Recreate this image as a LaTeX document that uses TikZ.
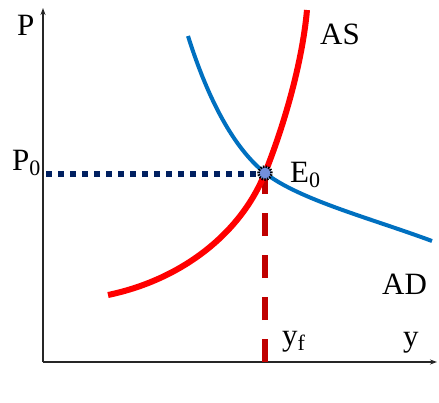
\documentclass[tikz,border=0pt]{standalone}
\usepackage{fontspec}
\setmainfont{Liberation Serif}
\usetikzlibrary{arrows.meta}
\definecolor{adblue}{HTML}{0070C0}
\definecolor{asred}{HTML}{FF0000}
\definecolor{darkred}{HTML}{C00000}
\definecolor{navy}{HTML}{002060}
\definecolor{ptfill}{HTML}{7390DC}
\newcommand{\sbs}[1]{\raisebox{-5pt}{\fontsize{22}{22}\selectfont #1}}
\begin{document}
\begin{tikzpicture}[x=1pt,y=-1pt,
  lbl/.style={anchor=base west,inner sep=0pt,font=\fontsize{31}{31}\selectfont},
  axis/.style={line width=1.3pt,draw=black!85,-{Stealth[length=7pt,width=5pt]}},
  adcurve/.style={draw=adblue,line width=4pt},
  ascurve/.style={draw=asred,line width=6pt},
  guideh/.style={draw=navy,line width=6pt,dash pattern=on 6pt off 6pt},
  guidev/.style={draw=darkred,line width=6pt,dash pattern=on 23pt off 19pt},
  eqpt/.style={circle,minimum size=13pt,inner sep=0pt,fill=ptfill,draw=black,line width=2.5pt,dash pattern=on 1.5pt off 1.2pt}]
\useasboundingbox (0,0) rectangle (439,402);
% axes
\coordinate (O) at (43,362);
\coordinate (ytop) at (43,8);
\coordinate (xend) at (437,362);
\draw[axis] (O) -- (ytop);
\draw[axis] (O) -- (xend);
% guides
\coordinate (e) at (265,173);
\coordinate (pstart) at (46,174);
\coordinate (yfbot) at (265,362);
\draw[guideh] (pstart) -- (e |- pstart);
\draw[guidev] (yfbot) -- (e);
% AS curve
\coordinate (as1) at (108,295);
\coordinate (as2) at (307,10);
\draw[ascurve] (as1) .. controls (180,280) and (240,235) .. (e)
               .. controls (283,128) and (302,65) .. (as2);
% AD curve
\coordinate (ad1) at (188,36);
\coordinate (ad2) at (432,241);
\draw[adcurve] (ad1) .. controls (205,90) and (230,145) .. (e)
               .. controls (300,200) and (370,218) .. (ad2);
% equilibrium point
\node[eqpt] (e0) at (e) {};
% labels
\node[lbl] (P) at (17,35) {P};
\node[lbl] (AS) at (320,44) {AS};
\node[lbl] (P0) at (12,170) {P\sbs{0}};
\node[lbl] (E0) at (290,182) {E\sbs{0}};
\node[lbl] (AD) at (382,294) {AD};
\node[lbl] (yf) at (282,345) {y\sbs{f}};
\node[lbl] (y) at (403,346) {y};
\end{tikzpicture}
\end{document}
